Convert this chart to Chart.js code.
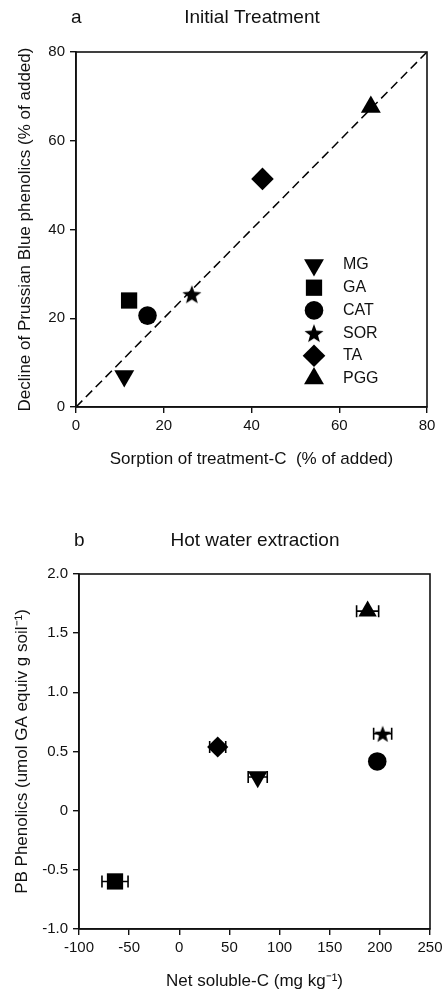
<!DOCTYPE html>
<html>
<head>
<meta charset="utf-8">
<script src="https://cdn.jsdelivr.net/npm/chart.js@4"></script>
<style>
  body { margin: 0; background: #fff; }
  #wrapA { position: absolute; left: 0; top: 0; width: 447px; height: 480px; }
  #wrapB { position: absolute; left: 0; top: 490px; width: 447px; height: 510px; }
</style>
</head>
<body>
<div id="wrapA"><canvas id="chartA" width="447" height="480"></canvas></div>
<div id="wrapB"><canvas id="chartB" width="447" height="510"></canvas></div>
<script>
// treatments, same order in both panels
const treatments = ["MG", "GA", "CAT", "SOR", "TA", "PGG"];

// panel a - initial treatment
const sorptionC = [11.0, 12.1, 16.3, 26.4, 42.5, 67.2];
const declinePB = [7.0, 24.0, 20.6, 25.4, 51.4, 67.6];
const oneToOne = [0, 80];

// panel b - hot water extraction
const netSolubleC = [78.2, -64.1, 197.4, 202.8, 38.3, 187.8];
const netSolubleCErr = [9.5, 13, 5, 9, 8, 11];
const pbPhenolics = [0.285, -0.598, 0.416, 0.65, 0.538, 1.686];

const INK = "#111";
const FONT = "Arial, 'Liberation Sans', sans-serif";
Chart.defaults.font.family = FONT;
Chart.defaults.color = INK;

// filled five point star, used as an image point style
function makeStar(R) {
    const size = Math.ceil(R * 2) + 2;
    const c = document.createElement("canvas");
    c.width = size;
    c.height = size;
    const g = c.getContext("2d");
    const cx = size / 2, cy = size / 2 + R * 0.1;
    const r = R * 0.42;
    g.beginPath();
    for (let i = 0; i < 10; i++) {
        const rad = i % 2 === 0 ? R : r;
        const a = -Math.PI / 2 + i * Math.PI / 5;
        const px = cx + rad * Math.cos(a), py = cy + rad * Math.sin(a);
        if (i === 0) g.moveTo(px, py); else g.lineTo(px, py);
    }
    g.closePath();
    g.fillStyle = "#000";
    g.fill();
    return c;
}

const starA = makeStar(10);
const starB = makeStar(9);
const stylesA = ["triangle", "rect", "circle", starA, "rectRot", "triangle"];
const stylesB = ["triangle", "rect", "circle", starB, "rectRot", "triangle"];
const rotations = [180, 0, 0, 0, 0, 0];
const radiiA = [11.5, 11.5, 9.3, 10, 11.3, 11.5];
const radiiB = [11.3, 11.5, 9.3, 9, 10.6, 10.6];

function pointDatasets(xs, ys, styles, radii) {
    return treatments.map((name, i) => ({
        type: "scatter",
        label: name,
        data: [{ x: xs[i], y: ys[i] }],
        pointStyle: styles[i],
        rotation: rotations[i],
        pointRadius: radii[i],
        pointHoverRadius: radii[i],
        backgroundColor: "#000",
        borderColor: "#000",
        borderWidth: 0
    }));
}

function axis(min, max, step, title, fixed, pad, horizontal) {
    return {
        type: "linear",
        min: min,
        max: max,
        ticks: { stepSize: step, color: INK, font: { size: 15 }, padding: horizontal ? 4 : 5 },
        grid: { drawOnChartArea: false, drawTicks: true, tickLength: 6, color: INK, lineWidth: 1.4 },
        border: { color: INK, width: 1.6 },
        title: { display: true, text: title, color: INK, font: { size: 17 }, padding: horizontal ? { bottom: pad } : { top: pad } },
        afterFit: (scale) => {
            if (horizontal) scale.height = fixed; else scale.width = fixed;
        }
    };
}

// box around the plot, panel letter and panel title
const framePlugin = {
    id: "frame",
    afterDraw(chart, args, opts) {
        const { ctx, chartArea: a } = chart;
        ctx.save();
        ctx.strokeStyle = INK;
        ctx.lineWidth = 1.6;
        ctx.strokeRect(a.left, a.top, a.right - a.left, a.bottom - a.top);
        ctx.fillStyle = INK;
        ctx.textBaseline = "middle";
        ctx.font = "19px " + FONT;
        ctx.textAlign = "left";
        ctx.fillText(opts.letter, opts.letterX, opts.titleY);
        ctx.textAlign = "center";
        ctx.fillText(opts.title, opts.titleX, opts.titleY);
        ctx.restore();
    }
};

// legend inside panel a
const legendPlugin = {
    id: "insideLegend",
    afterDatasetsDraw(chart, args, opts) {
        if (!opts.show) return;
        const ctx = chart.ctx;
        ctx.save();
        ctx.font = "16px " + FONT;
        ctx.textBaseline = "middle";
        ctx.textAlign = "left";
        treatments.forEach((name, i) => {
            const y = opts.top + i * opts.step;
            ctx.fillStyle = "#000";
            ctx.strokeStyle = "#000";
            Chart.helpers.drawPoint(ctx, {
                pointStyle: stylesA[i],
                rotation: rotations[i],
                radius: radiiA[i],
                borderWidth: 0
            }, opts.markX, y);
            ctx.fillStyle = INK;
            ctx.fillText(name, opts.textX, y);
        });
        ctx.restore();
    }
};

// horizontal error bars on panel b
const errorBarPlugin = {
    id: "errorBars",
    beforeDatasetsDraw(chart, args, opts) {
        if (!opts.show) return;
        const { ctx, scales: { x, y } } = chart;
        ctx.save();
        ctx.strokeStyle = "#000";
        ctx.lineWidth = 1.6;
        treatments.forEach((name, i) => {
            const py = y.getPixelForValue(pbPhenolics[i]);
            const x0 = x.getPixelForValue(netSolubleC[i] - netSolubleCErr[i]);
            const x1 = x.getPixelForValue(netSolubleC[i] + netSolubleCErr[i]);
            ctx.beginPath();
            ctx.moveTo(x0, py); ctx.lineTo(x1, py);
            ctx.moveTo(x0, py - 6); ctx.lineTo(x0, py + 6);
            ctx.moveTo(x1, py - 6); ctx.lineTo(x1, py + 6);
            ctx.stroke();
        });
        ctx.restore();
    }
};

Chart.register(framePlugin, legendPlugin, errorBarPlugin);

const datasetsA = pointDatasets(sorptionC, declinePB, stylesA, radiiA);
datasetsA.unshift({
    type: "line",
    label: "1:1",
    data: oneToOne.map(v => ({ x: v, y: v })),
    borderColor: "#000",
    borderWidth: 1.5,
    borderDash: [9, 5],
    pointRadius: 0,
    fill: false
});

new Chart(document.getElementById("chartA"), {
    type: "scatter",
    data: { datasets: datasetsA },
    options: {
        responsive: false,
        animation: false,
        layout: { padding: { top: 52, right: 20, left: 0, bottom: 0 } },
        scales: {
            x: axis(0, 80, 20, "Sorption of treatment-C  (% of added)", 73, 10, true),
            y: axis(0, 80, 20, "Decline of Prussian Blue phenolics (% of added)", 76, 15, false)
        },
        plugins: {
            legend: { display: false },
            tooltip: { enabled: false },
            frame: { letter: "a", letterX: 71, title: "Initial Treatment", titleX: 252, titleY: 18 },
            insideLegend: { show: true, markX: 314, textX: 343, top: 265, step: 22.7 },
            errorBars: { show: false }
        }
    }
});

new Chart(document.getElementById("chartB"), {
    type: "scatter",
    data: { datasets: pointDatasets(netSolubleC, pbPhenolics, stylesB, radiiB) },
    options: {
        responsive: false,
        animation: false,
        layout: { padding: { top: 84, right: 17, left: 0, bottom: 0 } },
        scales: {
            x: axis(-100, 250, 50, "Net soluble-C (mg kg\u207B\u00B9)", 71, 8, true),
            y: axis(-1, 2, 0.5, "PB Phenolics (umol GA equiv g soil\u207B\u00B9)", 79, 12, false)
        },
        plugins: {
            legend: { display: false },
            tooltip: { enabled: false },
            frame: { letter: "b", letterX: 74, title: "Hot water extraction", titleX: 255, titleY: 51 },
            insideLegend: { show: false },
            errorBars: { show: true }
        }
    }
});
</script>
</body>
</html>
